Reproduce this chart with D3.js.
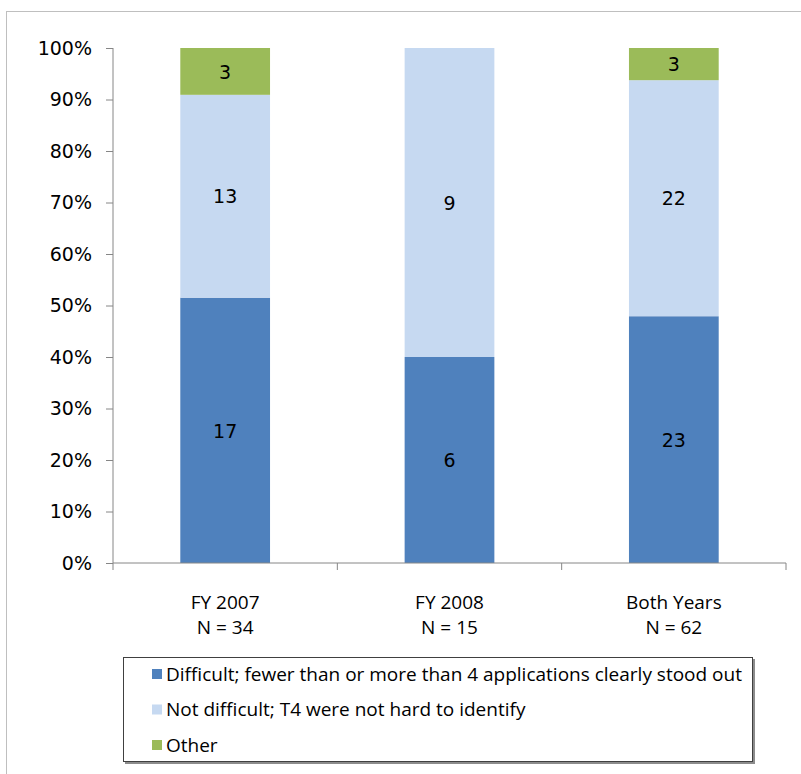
<!DOCTYPE html>
<html>
<head>
<meta charset="utf-8">
<script src="https://cdn.jsdelivr.net/npm/d3@7"></script>
<style>
  body { margin: 0; background: #fff; }
</style>
</head>
<body>
<svg id="chart"></svg>
<script>
const categories = ["FY 2007", "FY 2008", "Both Years"];
const sampleSizes = ["N = 34", "N = 15", "N = 62"];
const seriesNames = [
    "Difficult; fewer than or more than 4 applications clearly stood out",
    "Not difficult; T4 were not hard to identify",
    "Other"
];
const difficult = [17, 6, 23];
const notDifficult = [13, 9, 22];
const other = [3, 0, 3];
const colors = ["#4f81bd", "#c6d9f1", "#9bbb59"];
const yTicks = [0, 0.1, 0.2, 0.3, 0.4, 0.5, 0.6, 0.7, 0.8, 0.9, 1];

const WIDTH = 801, HEIGHT = 774;
const labelFont = "Open Sans, Lato, sans-serif";
const numFont = "DejaVu Sans, Verdana, sans-serif";

const svg = d3.select("#chart").attr("width", WIDTH).attr("height", HEIGHT);

// outer chart frame (runs off the right/bottom edge like the original)
svg.append("rect")
    .attr("x", 6.5).attr("y", 11.5)
    .attr("width", 820).attr("height", 800)
    .style("fill", "none").style("stroke", "#bfbfbf");

const rows = categories.map((c, i) => {
    const total = difficult[i] + notDifficult[i] + other[i];
    return { cat: c, counts: [difficult[i], notDifficult[i], other[i]], total };
});

const x = d3.scaleBand().domain(categories).range([113, 786]).paddingInner(0.6).paddingOuter(0.3);
const y = d3.scaleLinear().domain([0, 1]).range([563, 48]);

// percent stacks, labelled with counts
const stacked = d3.stack().keys([0, 1, 2])
    .value((d, k) => d.counts[k] / d.total)(rows);

const layer = svg.selectAll("g.layer").data(stacked).enter().append("g")
    .attr("class", "layer")
    .style("fill", (d, i) => colors[i]);

layer.selectAll("rect").data(d => d.filter(s => s[1] > s[0])).enter().append("rect")
    .attr("x", d => x(d.data.cat))
    .attr("width", x.bandwidth())
    .attr("y", d => y(d[1]))
    .attr("height", d => y(d[0]) - y(d[1]));

stacked.forEach((s, k) => {
    svg.selectAll(null).data(s.filter(d => d[1] > d[0])).enter().append("text")
        .attr("x", d => x(d.data.cat) + x.bandwidth() / 2)
        .attr("y", d => (y(d[0]) + y(d[1])) / 2)
        .attr("dy", "0.38em")
        .attr("text-anchor", "middle")
        .style("font-family", numFont)
        .style("font-size", "19px")
        .style("fill", "#000")
        .text(d => d.data.counts[k]);
});

// y axis
const yAxis = svg.append("g")
    .attr("transform", "translate(113,0)")
    .call(d3.axisLeft(y).tickValues(yTicks).tickFormat(d3.format(".0%")).tickSize(7).tickPadding(14));
yAxis.select(".domain").attr("stroke", "#868686").attr("d", "M0,48V563");
yAxis.selectAll(".tick line").attr("stroke", "#868686");
yAxis.selectAll(".tick text")
    .style("font-family", numFont)
    .style("font-size", "19px")
    .style("fill", "#000");

// x axis with boundary ticks between categories
const xAxis = svg.append("g").attr("transform", "translate(0,563)");
xAxis.append("line").attr("x1", 113).attr("x2", 786).attr("stroke", "#868686");
const step = (786 - 113) / categories.length;
xAxis.selectAll("line.tk").data(d3.range(categories.length + 1)).enter().append("line")
    .attr("class", "tk")
    .attr("x1", i => 113 + i * step)
    .attr("x2", i => 113 + i * step)
    .attr("y1", 0).attr("y2", 7)
    .attr("stroke", "#868686");

const catLabel = svg.selectAll("text.cat").data(categories).enter().append("text")
    .attr("class", "cat")
    .attr("text-anchor", "middle")
    .style("font-family", labelFont)
    .style("font-size", "19px")
    .style("fill", "#000");
catLabel.append("tspan").attr("x", d => x(d) + x.bandwidth() / 2).attr("y", 609).text(d => d);
catLabel.append("tspan").attr("x", d => x(d) + x.bandwidth() / 2).attr("y", 634)
    .text((d, i) => sampleSizes[i]);

// legend
const legend = svg.append("g");
legend.append("rect")
    .attr("x", 125).attr("y", 659).attr("width", 630).attr("height", 105)
    .style("fill", "#8c8c8c");
legend.append("rect")
    .attr("x", 123.5).attr("y", 657.5).attr("width", 629).attr("height", 104)
    .style("fill", "#fff").style("stroke", "#404040");
const item = legend.selectAll("g.item").data(seriesNames).enter().append("g")
    .attr("transform", (d, i) => `translate(152,${674 + i * 35.5})`);
item.append("rect")
    .attr("x", 0).attr("y", -5).attr("width", 10).attr("height", 10)
    .style("fill", (d, i) => colors[i]);
item.append("text")
    .attr("x", 14).attr("dy", "0.36em")
    .style("font-family", labelFont)
    .style("font-size", "19px")
    .style("fill", "#000")
    .text(d => d);
</script>
</body>
</html>
